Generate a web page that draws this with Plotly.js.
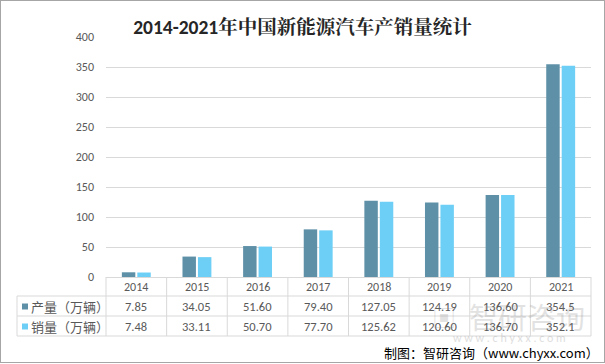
<!DOCTYPE html>
<html>
<head>
<meta charset="utf-8">
<script src="https://cdn.plot.ly/plotly-3.0.1.min.js"></script>
<style>
  html, body { margin: 0; padding: 0; background: #fff; }
  #frame { position: absolute; left: 0; top: 0; width: 605px; height: 363px; box-sizing: border-box; border: 1px solid #a6a6a6; pointer-events: none; }
  #chart { position: absolute; left: 0; top: 0; width: 605px; height: 364px; }
</style>
</head>
<body>
<div id="chart"></div>
<div id="frame"></div>
<script>
// 2014-2021 NEV production / sales (10k vehicles)
const years = ['2014', '2015', '2016', '2017', '2018', '2019', '2020', '2021'];
const production = [7.85, 34.05, 51.60, 79.40, 127.05, 124.19, 136.60, 354.5];
const sales = [7.48, 33.11, 50.70, 77.70, 125.62, 120.60, 136.70, 352.1];
const productionLabels = ['7.85', '34.05', '51.60', '79.40', '127.05', '124.19', '136.60', '354.5'];
const salesLabels = ['7.48', '33.11', '50.70', '77.70', '125.62', '120.60', '136.70', '352.1'];
const seriesNames = ['产量（万辆）', '销量（万辆）'];
const yTicks = [0, 50, 100, 150, 200, 250, 300, 350, 400];

const darkBlue = 'rgb(94,145,168)';
const lightBlue = 'rgb(109,207,246)';
const gridColor = '#d9d9d9';
const textGray = '#595959';
const font = 'Calibri, Carlito, "Noto Sans CJK SC", sans-serif';
const cjk = '"Noto Sans CJK SC", sans-serif';

const plotW = 485;                 // plot area width in px
const plotH = 240;                 // plot area height in px
const row = px => -px / plotH;     // px below the axis -> paper y
const col = px => px / plotW;      // px right of the plot's left edge -> paper x
const n = years.length;
const colCenter = i => (i + 0.5) / n;

const traces = [
  { type: 'bar', x: years, y: production, name: seriesNames[0],
    marker: { color: darkBlue }, hoverinfo: 'x+y' },
  { type: 'bar', x: years, y: sales, name: seriesNames[1],
    marker: { color: lightBlue }, hoverinfo: 'x+y' }
];

// data table under the plot
const shapes = [];
const annotations = [];
const line = { color: gridColor, width: 1 };
const hline = (x0, x1, y) => shapes.push({ type: 'line', xref: 'paper', yref: 'paper', x0, x1, y0: y, y1: y, line });
const vline = (x, y0, y1) => shapes.push({ type: 'line', xref: 'paper', yref: 'paper', x0: x, x1: x, y0, y1, line });

hline(col(-89), 1, row(19));
hline(col(-89), 1, row(39));
hline(col(-89), 1, row(59));
vline(col(-89), row(19), row(59));
for (let i = 0; i <= n; i++) vline(i / n, 0, row(59));

const cell = (x, y, text, size) => annotations.push({ xref: 'paper', yref: 'paper', x, y, text,
  xanchor: 'center', yanchor: 'middle', showarrow: false, font: { family: font, size, color: textGray } });

years.forEach((yr, i) => {
  cell(colCenter(i), row(10), yr, 12);
  cell(colCenter(i), row(29.5), productionLabels[i], 12.5);
  cell(colCenter(i), row(49.5), salesLabels[i], 12.5);
});

// legend keys in the table
[[darkBlue, 29.5, seriesNames[0]], [lightBlue, 49.5, seriesNames[1]]].forEach(([c, y, t]) => {
  shapes.push({ type: 'rect', xref: 'paper', yref: 'paper',
    x0: col(-84), x1: col(-78), y0: row(y - 3), y1: row(y + 3), fillcolor: c, line: { width: 0 } });
  annotations.push({ xref: 'paper', yref: 'paper', x: col(-77), y: row(y), xanchor: 'left', yanchor: 'middle',
    text: t, showarrow: false, font: { family: cjk, size: 13, color: textGray } });
});

// watermark
annotations.push({ xref: 'paper', yref: 'paper', x: col(338), y: row(39), xanchor: 'center', yanchor: 'middle',
  text: '▣', showarrow: false, opacity: 0.22, font: { family: cjk, size: 24, color: '#7f7f7f' } });
annotations.push({ xref: 'paper', yref: 'paper', x: col(421), y: row(39), xanchor: 'center', yanchor: 'middle',
  text: '智研咨询', showarrow: false, opacity: 0.22, font: { family: cjk, size: 29, color: '#7f7f7f' } });
annotations.push({ xref: 'paper', yref: 'paper', x: col(403), y: row(61), xanchor: 'center', yanchor: 'middle',
  text: 'w w w . c h y x x . c o m', showarrow: false, opacity: 0.25,
  font: { family: font, size: 12, color: '#7f7f7f' } });

// source note
annotations.push({ xref: 'paper', yref: 'paper', x: col(495), y: row(75), xanchor: 'right', yanchor: 'middle',
  text: '制图：智研咨询（www.chyxx.com）', showarrow: false,
  font: { family: cjk, size: 13, color: '#000' } });

const layout = {
  width: 605, height: 364,
  margin: { l: 106, r: 14, t: 37, b: 87 },
  paper_bgcolor: '#fff', plot_bgcolor: '#fff',
  title: { text: '<b><span style="font-family:Carlito, Calibri, sans-serif">2014-2021</span>年中国新能源汽车产销量统计</b>',
    x: 0.5, xanchor: 'center', y: 0.925, yanchor: 'middle',
    font: { family: '"Noto Serif CJK SC", "Noto Sans CJK SC", serif', size: 19.5, color: '#262626' } },
  showlegend: false,
  barmode: 'group', bargap: 0.49, bargroupgap: 0.13,
  xaxis: { type: 'category', showticklabels: false, showgrid: false, zeroline: false,
    showline: false, fixedrange: true },
  yaxis: { range: [0, 400], tickvals: yTicks, ticktext: yTicks.map(String), showgrid: true, gridcolor: gridColor,
    gridwidth: 1, zeroline: true, zerolinecolor: gridColor, zerolinewidth: 1, showline: false, ticks: '',
    ticklabelstandoff: 11, tickfont: { family: font, size: 12, color: textGray }, fixedrange: true },
  shapes, annotations
};

Plotly.newPlot('chart', traces, layout, { displayModeBar: false, staticPlot: true });
</script>
</body>
</html>
